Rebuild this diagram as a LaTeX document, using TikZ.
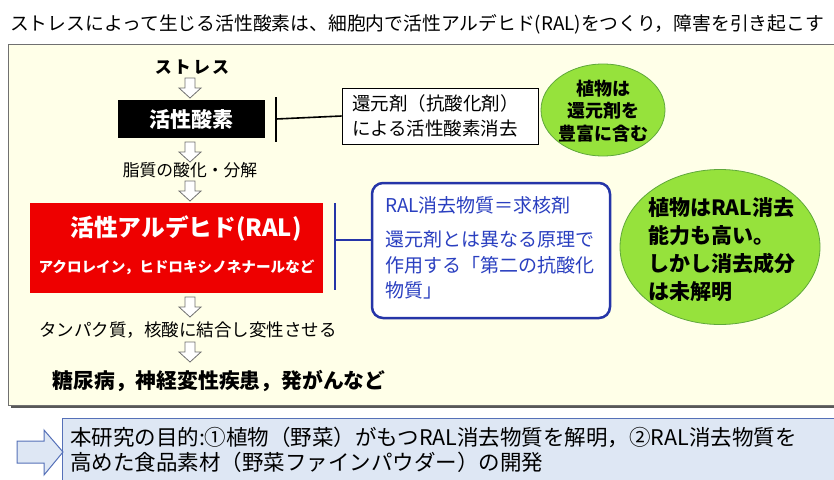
\documentclass[tikz,border=0pt]{standalone}
\usepackage{fontspec}
\setmainfont{Noto Sans CJK JP}
\usetikzlibrary{shapes.geometric,calc}
\definecolor{cream}{HTML}{FFFFE8}
\definecolor{lgreen}{HTML}{96E23C}
\definecolor{dgreen}{HTML}{5FA83A}
\definecolor{nblue}{HTML}{2535A8}
\definecolor{tblue}{HTML}{2A3FC0}
\definecolor{rred}{HTML}{EE0000}
\definecolor{lblue}{HTML}{DEE7F4}
\definecolor{bblue}{HTML}{5570B8}
\definecolor{agray}{HTML}{707070}
\newcommand\fsz[2]{\fontsize{#1}{#2}\selectfont}
\tikzset{
  txt/.style={inner sep=0pt, outer sep=0pt},
  dnarrow/.pic={\draw[agray, fill=white, line width=0.8pt, line join=miter]
     (-5,0) -- (5,0) -- (5,10) -- (11,10) -- (0,20) -- (-11,10) -- (-5,10) -- cycle;},
  inhib/.style={line width=1.6pt},
}
\begin{document}
\begin{tikzpicture}[x=1pt,y=-1pt]
\useasboundingbox (0,0) rectangle (834,479);
% title
\node[txt, font=\fsz{18.8}{22}] (title) at (417,24) {ストレスによって生じる活性酸素は、細胞内で活性アルデヒド(RAL)をつくり，障害を引き起こす};
% main box with shadow
\fill[black!65] (11,47) rectangle (850,408);
\draw[draw=agray, fill=cream, line width=0.8pt] (8,44) rectangle (848,405);
% flow
\node[txt, font=\fsz{17}{20}\bfseries\addfontfeature{LetterSpace=12}] (stress) at (192,67) {ストレス};
\pic at (190,78) {dnarrow};
\node[fill=black, text=white, minimum width=147pt, minimum height=38pt, inner sep=0pt, font=\fsz{21}{24}\bfseries] (ros) at (191.5,119) {活性酸素};
\pic at (190,142) {dnarrow};
\node[txt, font=\fsz{16.8}{19}] (lipid) at (190,170) {脂質の酸化・分解};
\pic at (190,181) {dnarrow};
\node[fill=rred, minimum width=293pt, minimum height=90pt, inner sep=0pt] (ral) at (176.5,248) {};
\node[txt, text=white, font=\fsz{23.7}{26}\bfseries] (raltitle) at (186,229) {活性アルデヒド(RAL)};
\node[txt, text=white, font=\fsz{14.6}{17}\bfseries] (ralsub) at (176.5,267) {アクロレイン，ヒドロキシノネナールなど};
\pic at (190,297) {dnarrow};
\node[txt, font=\fsz{17.5}{20}] (protein) at (188,330) {タンパク質，核酸に結合し変性させる};
\pic at (190,342) {dnarrow};
\node[txt, font=\fsz{20.8}{23}\bfseries] (disease) at (219,381) {糖尿病，神経変性疾患，発がんなど};
% scavenging by reducing agents
\node[draw=black, fill=white, line width=0.8pt, minimum width=196pt, minimum height=56pt, inner sep=0pt] (scav) at (440,116) {};
\node[txt, align=left, anchor=west, font=\fsz{18.5}{25}] (scavtxt) at (352,116) {還元剤（抗酸化剤）\\による活性酸素消去};
\coordinate (bar1) at ($(ros.east)+(11,0)$);
\draw[inhib] ($(bar1)+(0,-22)$) -- ($(bar1)+(0,23)$);
\draw[inhib] (bar1) -- (scav.west);
\node[ellipse, fill=lgreen, draw=dgreen, line width=0.8pt, minimum width=124pt, minimum height=92pt, inner sep=0pt] (plant1) at (603,110) {};
\node[txt, align=center, font=\fsz{18}{22.5}\bfseries] (plant1txt) at (603,111) {植物は\\還元剤を\\豊富に含む};
% nucleophile box
\node[draw=nblue, fill=white, line width=2.5pt, rounded corners=11pt, minimum width=238pt, minimum height=135pt, inner sep=0pt] (nuc) at (491,250.5) {};
\node[txt, anchor=west, text=tblue, font=\fsz{19}{22}] (nuctitle) at (385,205) {RAL消去物質＝求核剤};
\node[txt, anchor=north west, align=left, text=tblue, font=\fsz{19}{25.5}] (nuctxt) at (385,231) {還元剤とは異なる原理で\\作用する「第二の抗酸化\\物質」};
\coordinate (bar2) at ($(ral.east)+(12,-8)$);
\draw[nblue, inhib] ($(bar2)+(0,-37)$) -- ($(bar2)+(0,50)$);
\draw[nblue, inhib] (bar2) -- (nuc.west |- bar2);
\node[ellipse, fill=lgreen, draw=dgreen, line width=0.8pt, minimum width=200pt, minimum height=155pt, inner sep=0pt] (plant2) at (720,247) {};
\node[txt, anchor=north west, align=left, font=\fsz{21}{28}\bfseries] (plant2txt) at (648,198) {植物はRAL消去\\能力も高い。\\しかし消去成分\\は未解明};
% purpose
\node[draw=bblue, fill=lblue, line width=0.8pt, minimum width=790pt, minimum height=70pt, inner sep=0pt, anchor=north west] (purpose) at (62,418) {};
\node[txt, anchor=north west, align=left, font=\fsz{21.5}{25}] (purposetxt) at (70,427) {本研究の目的:①植物（野菜）がもつRAL消去物質を解明，②RAL消去物質を\\高めた食品素材（野菜ファインパウダー）の開発};
\draw[bblue, fill=lblue, line width=1pt, line join=miter] (17,441) -- (44,441) -- (44,430) -- (63,452) -- (44,475) -- (44,463) -- (17,463) -- cycle;
\end{tikzpicture}
\end{document}
